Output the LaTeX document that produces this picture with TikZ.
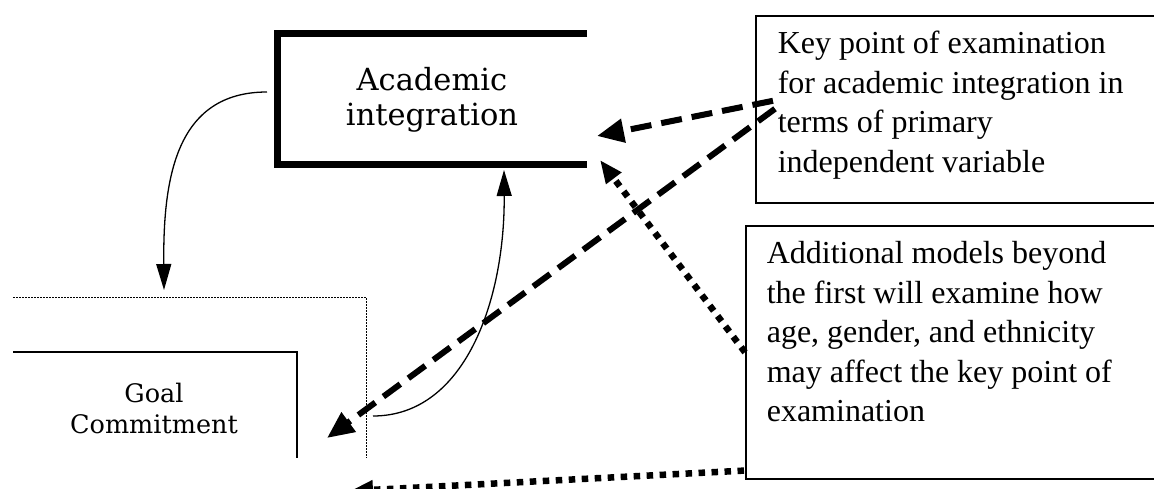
\documentclass[tikz,border=0pt]{standalone}
\usepackage{fontspec}
\setmainfont{Liberation Serif}
\newfontfamily\slabfont{DejaVu Serif}
\usetikzlibrary{arrows.meta}

\begin{document}
\begin{tikzpicture}[x=1pt, y=-1pt,
    thinarrow/.style={line width=1.3pt, -{Triangle[length=26pt,width=15pt]}},
    dasharrow/.style={line width=6pt, dash pattern=on 21pt off 10pt, -{Triangle[length=27pt,width=23pt]}},
    dotarrow/.style={line width=6.5pt, dash pattern=on 6.5pt off 6.5pt, -{Triangle[length=23pt,width=18pt]}},
    notebox/.style={draw, line width=1.6pt, inner ysep=0pt, anchor=north west, font=\fontsize{32}{39.5}\selectfont}]
    \useasboundingbox (0,0) rectangle (1154,489);
    \clip (0,0) rectangle (1154,489);
    % part of the model, cut off at the left and at the bottom
    \node[minimum width=310pt, minimum height=131pt, outer sep=0pt, align=center,
          font=\slabfont\fontsize{30.5}{35}\selectfont] (acad) at (432,99.5) {Academic\\integration};
    \draw[line width=7pt] (acad.north east) -- (acad.north west) -- (acad.south west) -- (acad.south east);
    \coordinate (frame) at (366,297);
    \draw[line width=1pt, dash pattern=on 1.5pt off 1.5pt] (13,297) -- (frame) -- (366,458);
    \draw[line width=1.3pt] (13,352) -- (297,352) -- (297,458);
    \node[align=center, font=\slabfont\fontsize{25.5}{31}\selectfont] (goal) at (154,408) {Goal\\Commitment};
    \coordinate (down) at (164,290);
    \coordinate (back) at (373,416);
    \draw[thinarrow] ([shift={(-10,-7.5)}]acad.west) .. controls (175,92) and (163,180) .. (down);
    \draw[thinarrow] (back) .. controls (465,416) and (505,300) .. ([shift={(72,5)}]acad.south);
    % notes
    \node[notebox, inner xsep=22pt] (key) at (755,15) {\parbox[t][187pt][t]{359pt}{\rule{0pt}{38pt}Key point of examination\\
        for academic integration in\\
        terms of primary\\
        independent variable}};
    \node[notebox, inner xsep=21pt] (addl) at (745,225) {\parbox[t][253pt][t]{373pt}{\rule{0pt}{38pt}Additional models beyond\\
        the first will examine how\\
        age, gender, and ethnicity\\
        may affect the key point of\\
        examination}};
    \coordinate (cut) at (350,491);
    \draw[dasharrow] ([shift={(18,-8.5)}]key.west) -- ([shift={(10,36.5)}]acad.east);
    \draw[dasharrow] ([shift={(20,-0.5)}]key.west) -- ([shift={(173,30)}]goal.center);
    \draw[dotarrow] (addl.west) -- ([shift={(13,60.5)}]acad.east);
    \draw[dotarrow] ([shift={(-1,-9)}]addl.south west) -- (cut);
\end{tikzpicture}
\end{document}
